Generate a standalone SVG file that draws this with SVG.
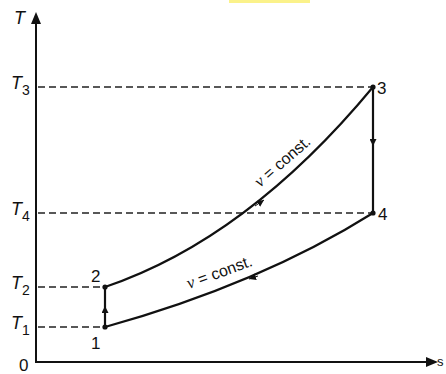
<svg xmlns="http://www.w3.org/2000/svg" width="446" height="374" viewBox="0 0 446 374">
<defs>
<style>
.ax{stroke:#111;stroke-width:2;fill:none}
.dash{stroke:#222;stroke-width:1.6;stroke-dasharray:7 4;fill:none}
.cv{stroke:#111;stroke-width:2.2;fill:none}
.lbl{font-family:"Liberation Sans",Arial,sans-serif;font-size:17px;fill:#111}
.tl{font-family:"Liberation Sans",Arial,sans-serif;font-size:18px;font-style:italic;fill:#111}
.sub{font-size:14px;font-style:normal}
.cl{font-family:"Liberation Sans",Arial,sans-serif;font-size:16px;fill:#111}
.vi{font-family:"Liberation Serif",serif;font-style:italic;font-size:17px}
</style>
<marker id="ah" viewBox="0 0 10 10" refX="10" refY="5" markerWidth="7" markerHeight="7" orient="auto" markerUnits="userSpaceOnUse">
<path d="M0,0 L10,5 L0,10 z" fill="#111"/>
</marker>
</defs>
<rect width="446" height="374" fill="#fff"/>
<rect x="229" y="0" width="81" height="3" fill="#fbf28a"/>
<g id="axes">
<line class="ax" x1="36" y1="362" x2="36" y2="16"/>
<path d="M31,24 L36,12 L41,24 z" fill="#111"/>
<line class="ax" x1="35" y1="362" x2="430" y2="362"/>
<path d="M426,357 L438,362 L426,367 z" fill="#111"/>
<text class="tl" x="14" y="24">T</text>
<text class="lbl" x="19" y="371">0</text>
<text class="lbl" x="437" y="366" style="font-size:13px">s</text>
</g>
<g id="guides">
<line class="dash" x1="38" y1="87" x2="372" y2="87"/>
<line class="dash" x1="38" y1="213" x2="372" y2="213"/>
<line class="dash" x1="38" y1="287" x2="104" y2="287"/>
<line class="dash" x1="38" y1="327" x2="104" y2="327"/>
<text class="tl" x="11" y="89">T<tspan class="sub" dy="6">3</tspan></text>
<text class="tl" x="11" y="215">T<tspan class="sub" dy="6">4</tspan></text>
<text class="tl" x="11" y="289">T<tspan class="sub" dy="6">2</tspan></text>
<text class="tl" x="11" y="329">T<tspan class="sub" dy="6">1</tspan></text>
</g>
<g id="connectors">
<path class="cv" d="M105,287 Q247,239 373,87"/>
<path class="cv" d="M373,213 Q260,284 105,327"/>
<line class="cv" x1="373" y1="87" x2="373" y2="213"/>
<line class="cv" x1="105" y1="327" x2="105" y2="287"/>
<line x1="255" y1="206" x2="264" y2="200" stroke="#111" stroke-width="1" marker-end="url(#ah)"/>
<line x1="258" y1="276" x2="249" y2="279" stroke="#111" stroke-width="1" marker-end="url(#ah)"/>
<line x1="373" y1="136" x2="373" y2="146" stroke="#111" stroke-width="1" marker-end="url(#ah)"/>
<line x1="105" y1="316" x2="105" y2="306" stroke="#111" stroke-width="1" marker-end="url(#ah)"/>
<text class="cl" transform="translate(260,188) rotate(-41)"><tspan class="vi">v</tspan> = const.</text>
<text class="cl" transform="translate(189,289) rotate(-20)"><tspan class="vi">v</tspan> = const.</text>
</g>
<g id="n1"><circle cx="105" cy="327" r="2.6" fill="#111"/><text class="lbl" x="91" y="349">1</text></g>
<g id="n2"><circle cx="105" cy="287" r="2.6" fill="#111"/><text class="lbl" x="91" y="282">2</text></g>
<g id="n3"><circle cx="373" cy="87" r="2.6" fill="#111"/><text class="lbl" x="377" y="94">3</text></g>
<g id="n4"><circle cx="373" cy="213" r="2.6" fill="#111"/><text class="lbl" x="378" y="220">4</text></g>
</svg>
